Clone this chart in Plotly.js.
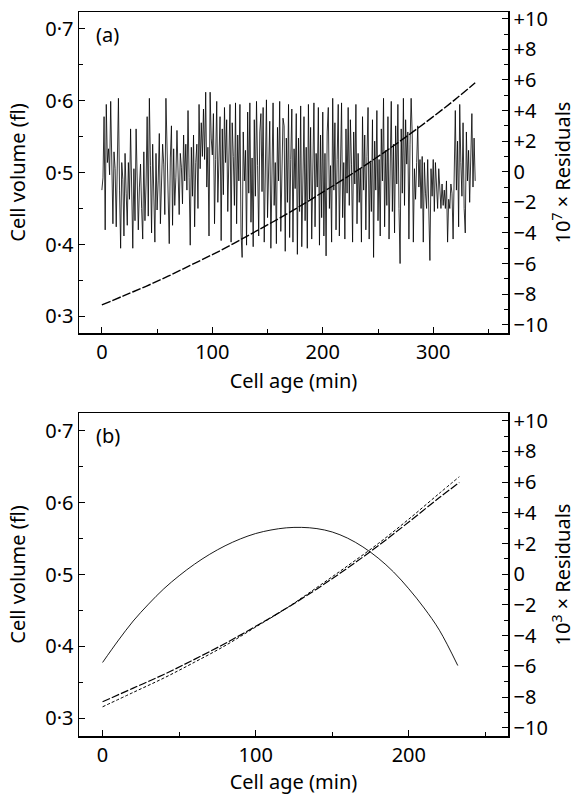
<!DOCTYPE html>
<html>
<head>
<meta charset="utf-8">
<script src="https://cdn.plot.ly/plotly-3.0.1.min.js"></script>
<style>html,body{margin:0;padding:0;background:#fff;}#chart{width:576px;height:795px;}</style>
</head>
<body>
<div id="chart"></div>
<script>
// ---------- Panel (a) ----------
// Residual noise (x 10^7), sampled every 1 min from 0 min
var residualStepA = 1;
var residualsA = [
  -1.2, -0.4, 3.6, -3.8, 4.4, 0.6, 1.5, -0.2, 4.6, 0.8,
  -3.4, 1.3, 0.2, -3.6, 2.6, 4.8, -1.2, -5.0, 0.6, -0.5,
  -4.2, 1.2, -1.4, -3.5, 0.6, -1.8, 2.8, -2.5, -5.0, 0.2,
  -3.2, 2.8, -0.6, -3.8, -1.0, 0.5, -2.4, -4.4, 1.3, -3.2,
  -0.8, 3.6, -2.9, 4.8, 0.4, -4.0, 1.8, -1.6, -4.6, 1.2,
  -2.5, -0.6, 2.5, -3.4, -0.8, 1.8, 0.5, -2.8, 4.8, 2.0,
  -1.2, -4.7, 0.9, 3.0, -3.5, 1.5, -2.2, -0.4, 2.7, 0.1,
  -2.8, 1.2, 0.3, -2.1, 2.4, -0.6, 1.8, -1.2, 4.0, -0.4,
  -4.8, 1.6, -1.6, 2.4, -3.6, 0.6, 1.8, -2.4, 4.4, 0.2,
  3.2, 1.0, 4.1, 0.8, 5.2, -1.0, 1.6, -4.2, 5.2, 2.2,
  1.1, 3.8, -3.4, 0.8, 4.6, -2.0, 1.9, 3.6, -4.5, 2.8,
  -1.5, 4.2, 0.6, 3.4, -2.6, 0.5, 4.4, -4.6, 3.2, 1.0,
  -2.2, 4.5, -3.4, 2.4, -0.6, 4.4, -4.0, -5.6, 2.6, -0.6,
  1.4, -4.8, 3.9, -1.4, 4.5, -3.3, 0.9, -4.9, 3.4, -1.6,
  4.6, 0.4, -4.2, 2.6, 3.8, -1.3, 4.2, -4.6, 1.6, 4.7,
  -3.0, -0.4, 3.3, -5.0, 1.9, 4.5, -2.2, 0.6, -4.7, 2.9,
  -0.6, 4.6, -3.9, 1.1, 3.5, 3.0, -5.2, 2.2, -2.0, 4.4,
  -4.3, 0.8, 4.1, -4.6, 1.5, -1.1, 3.8, -5.4, 2.2, -2.6,
  4.3, -4.9, 0.6, 3.6, -3.2, 1.6, -5.0, 4.4, -1.8, 2.9,
  -4.4, 0.4, 4.5, -3.6, 1.2, -1.0, 4.2, -4.8, 2.4, -3.0,
  3.9, -4.2, 1.2, -5.5, 2.6, 4.2, -2.4, 0.4, -4.6, 4.8,
  -1.2, 3.2, -3.8, 0.8, 4.4, -4.2, 1.6, 4.5, -3.0, 0.6,
  -4.4, 2.8, -1.4, 4.2, -2.2, 3.4, 0.5, -4.6, 2.6, -0.8,
  4.4, -3.4, 1.2, -2.0, 0.2, -4.6, 3.6, -1.2, 2.4, -3.8,
  1.0, 4.2, -4.4, 0.6, -2.6, 3.4, -5.6, 2.0, -1.2, 4.0,
  -3.2, 0.8, -4.2, 2.8, -0.6, 4.8, -3.6, 1.4, -2.2, 3.6,
  -4.4, 0.4, 4.6, -2.6, 1.8, -4.0, 3.0, -0.8, 4.4, -2.4,
  -6.0, 2.8, -1.4, 4.8, -2.2, 3.4, 0.5, 2.6, -4.4, 1.8,
  4.8, 2.4, -4.6, 0.2, -1.8, 0.6, 3.0, -1.0, 0.8, -2.4,
  1.0, -4.6, 0.6, -1.4, -2.4, 0.8, -3.0, -5.8, 0.2, -1.6,
  0.8, -2.6, 0.6, -1.4, -2.4, 0.2, -1.6, -2.4, -0.8, -2.2,
  -1.2, -2.4, -0.6, -4.6, -1.8, -2.4, -0.8, -1.4, -4.4, 0.2,
  4.0, -1.2, 2.0, -3.6, 4.4, 0.6, -1.6, 3.2, -2.4, -4.0,
  2.6, -0.6, 1.4, -2.0, 0.4, 3.8, -1.0, 2.2, -0.6
];
// Fitted volume curve (fl)
var fitAgeA = [0, 20, 40, 60, 80, 100, 120, 140, 160, 180, 200, 220, 240, 260, 280, 300, 320, 338];
var fitVolA = [0.316, 0.329, 0.342, 0.356, 0.371, 0.386, 0.402, 0.419, 0.436, 0.454, 0.473, 0.492, 0.512, 0.533, 0.555, 0.578, 0.602, 0.625];

// ---------- Panel (b) ----------
var residAgeB = [0, 10, 20, 30, 40, 50, 60, 70, 80, 90, 100, 110, 120, 130, 140, 150, 160, 170, 180, 190, 200, 210, 220, 232];
var residValB = [-5.75, -4.35, -3.05, -1.95, -0.95, -0.1, 0.65, 1.3, 1.85, 2.3, 2.65, 2.88, 3.02, 3.05, 2.97, 2.75, 2.35, 1.78, 1.05, 0.15, -0.95, -2.2, -3.65, -5.95];
var fitAgeB = [0, 20, 40, 60, 80, 100, 120, 140, 160, 180, 200, 220, 233];
var fitVolB1 = [0.323, 0.342, 0.361, 0.382, 0.404, 0.428, 0.453, 0.480, 0.509, 0.540, 0.573, 0.607, 0.628];
var fitVolB2 = [0.316, 0.336, 0.356, 0.378, 0.401, 0.427, 0.453, 0.482, 0.512, 0.543, 0.577, 0.613, 0.636];

// ---------- Ticks ----------
var volTicks = [0.3, 0.4, 0.5, 0.6, 0.7];
var volTickText = ['0·3', '0·4', '0·5', '0·6', '0·7'];
var volMinor = [0.35, 0.45, 0.55, 0.65];
var resTicks = [-10, -8, -6, -4, -2, 0, 2, 4, 6, 8, 10];
var resTickText = ['−10', '−8', '−6', '−4', '−2', '0', '+2', '+4', '+6', '+8', '+10'];
var resMinor = [-9, -7, -5, -3, -1, 1, 3, 5, 7, 9];
var ageTicksA = [0, 100, 200, 300];
var ageMinorA = [50, 150, 250, 350];
var ageTicksB = [0, 100, 200];
var ageMinorB = [50, 150, 250];

var ageA = residualsA.map(function (v, i) { return i * residualStepA; });

var FONT = 'Noto Sans, Open Sans, sans-serif';
var fs = 20;

var traces = [
  {x: ageA, y: residualsA, xaxis: 'x', yaxis: 'y2', type: 'scatter', mode: 'lines',
   line: {color: '#000', width: 0.8}, hoverinfo: 'skip'},
  {x: fitAgeA, y: fitVolA, xaxis: 'x', yaxis: 'y', type: 'scatter', mode: 'lines',
   line: {color: '#000', width: 1.4, dash: '9px,2px', shape: 'spline'}},
  {x: residAgeB, y: residValB, xaxis: 'x2', yaxis: 'y4', type: 'scatter', mode: 'lines',
   line: {color: '#000', width: 0.9, shape: 'spline'}},
  {x: fitAgeB, y: fitVolB1, xaxis: 'x2', yaxis: 'y3', type: 'scatter', mode: 'lines',
   line: {color: '#000', width: 1.2, dash: '8px,2px', shape: 'spline'}},
  {x: fitAgeB, y: fitVolB2, xaxis: 'x2', yaxis: 'y3', type: 'scatter', mode: 'lines',
   line: {color: '#000', width: 1.0, dash: '3px,2px', shape: 'spline'}}
];

function xAxis(anchor, range, tv, mv) {
  return {
    anchor: anchor, domain: [0, 1], range: range, tickmode: 'array', tickvals: tv,
    ticks: 'inside', ticklen: 6, tickwidth: 1, tickcolor: '#000',
    minor: {tickmode: 'array', tickvals: mv, ticks: 'inside', ticklen: 4, tickwidth: 1, tickcolor: '#000'},
    showline: true, linecolor: '#000', linewidth: 1.5, mirror: true,
    showgrid: false, zeroline: false, automargin: false,
    tickfont: {family: FONT, size: fs, color: '#000'},
    title: {text: 'Cell age (min)', font: {family: FONT, size: fs, color: '#000'}, standoff: 10}
  };
}
function yLeft(domain, range) {
  return {
    anchor: domain[0] > 0.3 ? 'x' : 'x2', domain: domain, range: range, tickmode: 'array',
    tickvals: volTicks, ticktext: volTickText,
    ticks: 'inside', ticklen: 6, tickwidth: 1, tickcolor: '#000',
    minor: {tickmode: 'array', tickvals: volMinor, ticks: 'inside', ticklen: 4, tickwidth: 1, tickcolor: '#000'},
    showline: true, linecolor: '#000', linewidth: 1.5, mirror: true,
    showgrid: false, zeroline: false, automargin: false,
    tickfont: {family: FONT, size: fs, color: '#000'},
    title: {text: 'Cell volume (fl)', font: {family: FONT, size: fs, color: '#000'}, standoff: 14}
  };
}
function yRight(over, anchor, range, titleText) {
  return {
    overlaying: over, anchor: anchor, side: 'right', range: range, tickmode: 'array',
    tickvals: resTicks, ticktext: resTickText,
    ticks: 'inside', ticklen: 6, tickwidth: 1, tickcolor: '#000',
    minor: {tickmode: 'array', tickvals: resMinor, ticks: 'inside', ticklen: 4, tickwidth: 1, tickcolor: '#000'},
    showline: true, linecolor: '#000', linewidth: 1.5,
    showgrid: false, zeroline: false, automargin: false,
    tickfont: {family: FONT, size: fs, color: '#000'},
    title: {text: titleText, font: {family: FONT, size: fs, color: '#000'}, standoff: 9}
  };
}

var layout = {
  width: 576, height: 795,
  margin: {l: 79, r: 68, t: 12, b: 59},
  paper_bgcolor: '#fff', plot_bgcolor: '#fff',
  showlegend: false,
  xaxis: xAxis('y', [-20.7, 367.7], ageTicksA, ageMinorA),
  yaxis: yLeft([0.5566, 1], [0.277, 0.7235]),
  yaxis2: yRight('y', 'x', [-10.54, 10.44], '10<sup>7</sup> × Residuals'),
  xaxis2: xAxis('y3', [-15.4, 264.8], ageTicksB, ageMinorB),
  yaxis3: yLeft([0, 0.4461], [0.2754, 0.7246]),
  yaxis4: yRight('y3', 'x2', [-10.54, 10.5], '10<sup>3</sup> × Residuals'),
  annotations: [
    {text: '(a)', xref: 'paper', yref: 'paper', x: 0.035, y: 0.9696, xanchor: 'left', yanchor: 'middle',
     showarrow: false, font: {family: FONT, size: fs, color: '#000'}},
    {text: '(b)', xref: 'paper', yref: 'paper', x: 0.035, y: 0.4144, xanchor: 'left', yanchor: 'middle',
     showarrow: false, font: {family: FONT, size: fs, color: '#000'}}
  ]
};

Plotly.newPlot('chart', traces, layout, {displayModeBar: false, staticPlot: true});
</script>
</body>
</html>
